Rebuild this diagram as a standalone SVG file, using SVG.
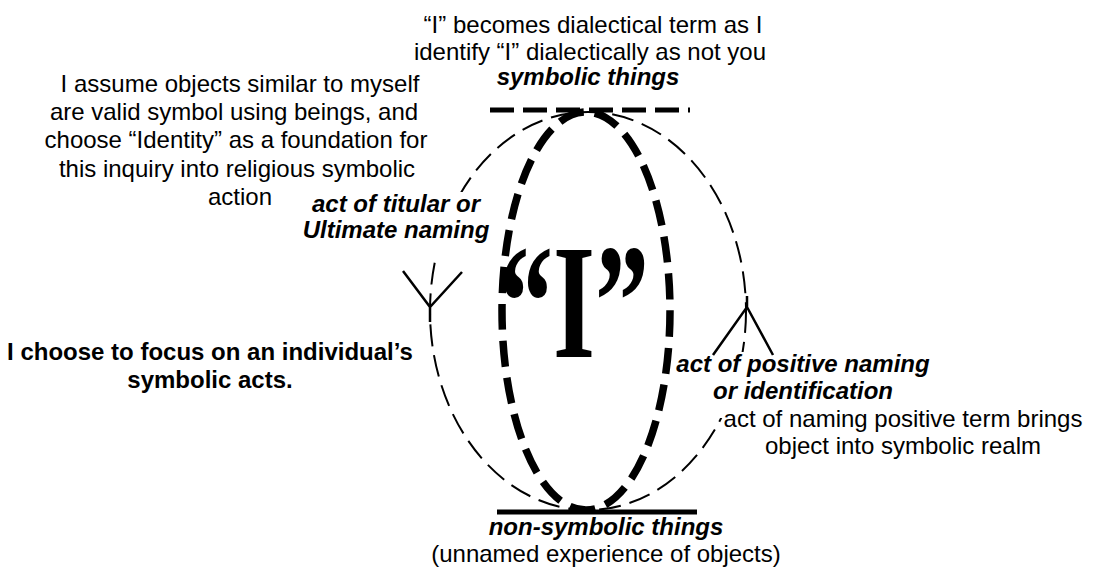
<svg xmlns="http://www.w3.org/2000/svg" width="1097" height="573" viewBox="0 0 1097 573">
<style>
.t{font-family:"Liberation Sans",Arial,sans-serif;font-size:24px;fill:#000}
.bi{font-weight:bold;font-style:italic}
.b{font-weight:bold}
.thin{fill:none;stroke:#000;stroke-width:2;stroke-dasharray:22 9}
.bold{fill:none;stroke:#000;stroke-width:7.5;stroke-dasharray:26 11}
.arr{fill:none;stroke:#000;stroke-width:2.5}
.mask{fill:#fff}
</style>
<rect width="1097" height="573" fill="#fff"/>
<g id="connectors">
  <ellipse id="outer-ellipse" class="thin" cx="588" cy="311" rx="158" ry="199"/>
  <ellipse id="inner-ellipse" class="bold" cx="586" cy="311" rx="84" ry="199"/>
  <path class="arr" d="M403,271 L430,307 L462,272 M430,307 L430,322"/>
</g>
<g id="symbolic-things">
  <line x1="490" y1="110" x2="690" y2="110" stroke="#000" stroke-width="5" stroke-dasharray="24 9"/>
  <text class="t" x="593" y="33" text-anchor="middle">“I” becomes dialectical term as I</text>
  <text class="t" x="590" y="60" text-anchor="middle">identify “I” dialectically as not you</text>
  <text class="t bi" x="588" y="85" text-anchor="middle">symbolic things</text>
</g>
<g id="non-symbolic-things">
  <line x1="497" y1="512" x2="697" y2="512" stroke="#000" stroke-width="5"/>
  <text class="t bi" x="606" y="535" text-anchor="middle">non-symbolic things</text>
  <text class="t" x="606" y="562" text-anchor="middle">(unnamed experience of objects)</text>
</g>
<g id="assumption">
  <text class="t" text-anchor="middle"><tspan x="240" y="92">I assume objects similar to myself</tspan><tspan x="234" y="120">are valid symbol using beings, and</tspan><tspan x="236" y="148">choose “Identity” as a foundation for</tspan><tspan x="237" y="177">this inquiry into religious symbolic</tspan><tspan x="240" y="205">action</tspan></text>
</g>
<g id="titular-naming">
  <rect class="mask" x="300" y="192" width="192" height="66"/>
  <text class="t bi" text-anchor="middle"><tspan x="396" y="212">act of titular or</tspan><tspan x="396" y="238">Ultimate naming</tspan></text>
</g>
<g id="focus">
  <text class="t b" text-anchor="middle"><tspan x="210" y="360">I choose to focus on an individual’s</tspan><tspan x="210" y="388">symbolic acts.</tspan></text>
</g>
<g id="I-node">
  <text transform="translate(574,357) scale(1,1.38)" x="0" y="0" text-anchor="middle" font-family="'Liberation Serif','Times New Roman',serif" font-weight="bold" font-size="118" textLength="150" lengthAdjust="spacingAndGlyphs">“I”</text>
</g>
<g id="positive-naming">
  <rect class="mask" x="673" y="352" width="262" height="66"/>
  <path class="arr" d="M713,355 L747,307 L773,355 M747,307 L747,296"/>
  <text class="t bi" text-anchor="middle"><tspan x="803" y="372">act of positive naming</tspan><tspan x="803" y="399">or identification</tspan></text>
  <text class="t" text-anchor="middle"><tspan x="903" y="427">act of naming positive term brings</tspan><tspan x="903" y="454">object into symbolic realm</tspan></text>
</g>
</svg>
